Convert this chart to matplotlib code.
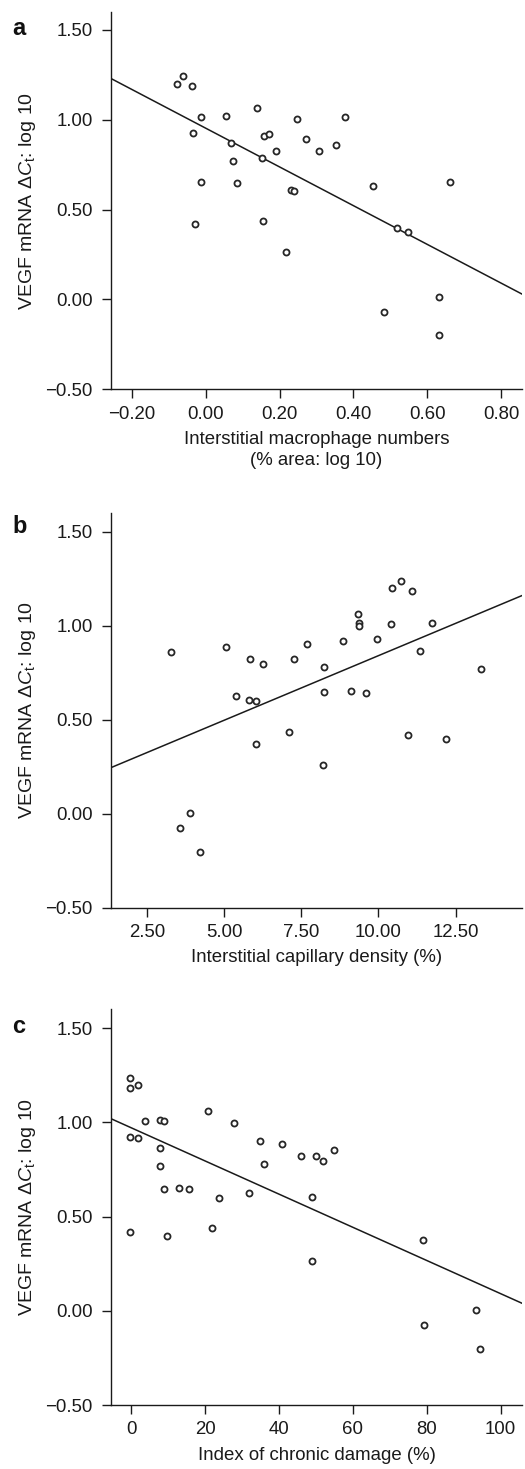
import numpy as np
import matplotlib.pyplot as plt

plt.rcParams['font.family'] = ['Liberation Sans', 'DejaVu Sans']
plt.rcParams['mathtext.fontset'] = 'custom'
plt.rcParams['mathtext.rm'] = 'Liberation Sans'
plt.rcParams['mathtext.it'] = 'Liberation Sans:italic'

# panel a: interstitial macrophage numbers (log10) vs VEGF mRNA
mac_x = [-0.077, -0.063, -0.038, -0.013, -0.034, -0.012, -0.030, 0.056, 0.068, 0.073,
         0.084, 0.138, 0.157, 0.172, 0.153, 0.191, 0.156, 0.217, 0.230, 0.239,
         0.248, 0.271, 0.306, 0.352, 0.377, 0.453, 0.518, 0.547, 0.662, 0.632,
         0.483, 0.632]
mac_y = [1.20, 1.243, 1.19, 1.015, 0.928, 0.656, 0.42, 1.022, 0.869, 0.772,
         0.647, 1.067, 0.908, 0.921, 0.786, 0.826, 0.439, 0.265, 0.608, 0.606,
         1.002, 0.893, 0.828, 0.861, 1.013, 0.63, 0.398, 0.378, 0.652, 0.013,
         -0.072, -0.196]
mac_fit = (-1.077, 0.953)

# panel b: interstitial capillary density (%)
cap_x = [3.28, 5.05, 5.83, 6.26, 5.39, 5.80, 6.04, 6.02, 7.11, 7.27,
         7.70, 8.22, 8.22, 8.19, 8.84, 9.12, 9.58, 9.33, 9.37, 9.37,
         9.95, 10.41, 10.45, 10.72, 11.08, 11.33, 11.73, 10.95, 12.18, 13.31,
         3.91, 3.56, 4.23]
cap_y = [0.858, 0.888, 0.824, 0.798, 0.624, 0.603, 0.601, 0.372, 0.436, 0.823,
         0.904, 0.782, 0.647, 0.261, 0.917, 0.652, 0.642, 1.062, 1.016, 0.998,
         0.926, 1.009, 1.200, 1.239, 1.186, 0.865, 1.011, 0.417, 0.395, 0.770,
         0.005, -0.078, -0.202]
cap_fit = (0.0687, 0.153)

# panel c: index of chronic damage (%)
dmg_x = [-0.3, -0.3, 1.7, -0.3, 1.7, 3.6, -0.3, 7.7, 8.8, 7.8,
         7.8, 8.8, 12.8, 15.7, 9.8, 20.8, 21.8, 23.7, 27.8, 31.9,
         34.8, 35.8, 40.9, 45.9, 49.9, 51.9, 54.9, 48.9, 48.9, 79.0,
         79.2, 93.3, 94.3]
dmg_y = [1.236, 1.183, 1.198, 0.924, 0.917, 1.007, 0.416, 1.014, 1.009, 0.864,
         0.769, 0.644, 0.651, 0.647, 0.395, 1.060, 0.437, 0.601, 0.995, 0.624,
         0.903, 0.781, 0.887, 0.824, 0.822, 0.795, 0.855, 0.603, 0.263, 0.374,
         -0.077, 0.003, -0.201]
dmg_fit = (-0.0088, 0.971)

yticks = [-0.5, 0.0, 0.5, 1.0, 1.5]
ylabel = r'VEGF mRNA $\Delta \mathit{C}_{\mathrm{t}}$: log 10'

panels = [
    ('a', mac_x, mac_y, mac_fit, (-0.257, 0.857), [-0.2, 0.0, 0.2, 0.4, 0.6, 0.8], '{:.2f}',
     'Interstitial macrophage numbers\n(% area: log 10)', [111, 12, 522, 389.3], 35),
    ('b', cap_x, cap_y, cap_fit, (1.335, 14.65), [2.5, 5.0, 7.5, 10.0, 12.5], '{:.2f}',
     'Interstitial capillary density (%)', [111, 512.7, 522, 907.7], 533),
    ('c', dmg_x, dmg_y, dmg_fit, (-5.5, 105.8), [0, 20, 40, 60, 80, 100], '{:d}',
     'Index of chronic damage (%)', [111, 1009.3, 522, 1405], 1033),
]

W, H = 525, 1469
fs = 13.4
fig = plt.figure(figsize=(W / 100, H / 100), dpi=100)

for letter, xs, ys, fit, xlim, xticks, fmt, xlabel, box, base in panels:
    l, t, r, b = box
    ax = fig.add_axes([l / W, 1 - b / H, (r - l) / W, (b - t) / H])
    ax.scatter(xs, ys, s=19, facecolors='white', edgecolors='#262626', linewidths=1.3, zorder=3)
    lx = np.array(xlim)
    ax.plot(lx, fit[0] * lx + fit[1], color='#1a1a1a', linewidth=1.1, zorder=2)
    ax.set_xlim(*xlim)
    ax.set_ylim(-0.5, 1.6)
    ax.set_yticks(yticks)
    ax.set_yticklabels(['\u22120.50' if v < 0 else f'{v:.2f}' for v in yticks])
    ax.set_xticks(xticks)
    lbls = []
    for v in xticks:
        s = fmt.format(v)
        lbls.append(s.replace('-', '\u2212'))
    ax.set_xticklabels(lbls)
    for side in ['top', 'right']:
        ax.spines[side].set_visible(False)
    for side in ['left', 'bottom']:
        ax.spines[side].set_linewidth(1.0)
        ax.spines[side].set_color('#1a1a1a')
    ax.tick_params(direction='out', length=6.8, width=1.0, colors='#1a1a1a',
                   labelsize=fs, labelcolor='#1a1a1a')
    ax.tick_params(axis='y', pad=6.5)
    ax.tick_params(axis='x', pad=5)
    ax.set_ylabel(ylabel, fontsize=14, labelpad=5, color='#1a1a1a')
    ax.set_xlabel(xlabel, fontsize=fs, labelpad=6, color='#1a1a1a', linespacing=1.3)
    fig.text(12 / W, 1 - base / H, letter, fontsize=17, fontweight='bold',
             va='baseline', ha='left', color='#111111')

fig.savefig('out.png', dpi=100)
